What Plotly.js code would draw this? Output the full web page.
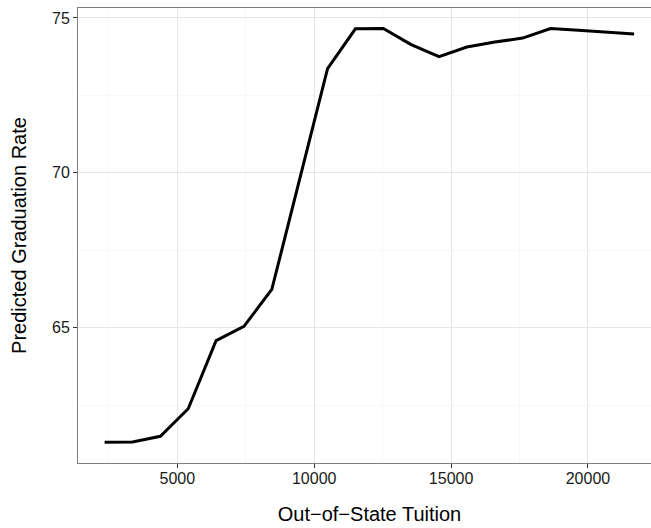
<!DOCTYPE html>
<html>
<head>
<meta charset="utf-8">
<script src="https://cdn.plot.ly/plotly-3.0.1.min.js"></script>
<style>
html, body { margin: 0; padding: 0; overflow: hidden; background: #fff; }
#chart { width: 661px; height: 528px; }
</style>
</head>
<body>
<div id="chart"></div>
<script>
const tuition = [2344, 3362, 4380, 5398, 6416, 7434, 8452, 9470, 10488, 11506,
                 12524, 13542, 14560, 15578, 16596, 17614, 18632, 19650, 20668, 21686];
const gradRate = [61.31, 61.32, 61.50, 62.39, 64.59, 65.05, 66.24, 69.79, 73.36, 74.65,
                  74.66, 74.14, 73.75, 74.06, 74.22, 74.35, 74.66, 74.60, 74.54, 74.48];
const xTitle = "Out\u2212of\u2212State Tuition";
const yTitle = "Predicted Graduation Rate";

const font = "Liberation Sans, Arial, sans-serif";

const trace = {
  x: tuition, y: gradRate, type: "scatter", mode: "lines",
  line: { color: "#000000", width: 3 }, hoverinfo: "skip"
};

const layout = {
  width: 661, height: 528,
  margin: { l: 78, r: 0, t: 8, b: 65 },
  paper_bgcolor: "#ffffff", plot_bgcolor: "#ffffff",
  showlegend: false,
  font: { family: font, color: "#1a1a1a" },
  xaxis: {
    range: [1372, 22668],
    tick0: 0, dtick: 5000,
    tickformat: "d",
    showgrid: true, gridcolor: "#e6e6e6", gridwidth: 1,
    minor: { tick0: 2500, dtick: 5000, showgrid: true, gridcolor: "#f7f7f7", gridwidth: 1, ticks: "" },
    zeroline: false,
    showline: true, linecolor: "#7f7f7f", linewidth: 1, mirror: true,
    ticks: "outside", ticklen: 4, tickcolor: "#333333", tickwidth: 1,
    ticklabelstandoff: -3,
    tickfont: { family: font, size: 16, color: "#1a1a1a" },
    title: { text: xTitle, font: { family: font, size: 20, color: "#000000" }, standoff: 20 },
    automargin: false
  },
  yaxis: {
    range: [60.64, 75.32],
    tick0: 0, dtick: 5,
    showgrid: true, gridcolor: "#e6e6e6", gridwidth: 1,
    minor: { tick0: 62.5, dtick: 5, showgrid: true, gridcolor: "#f7f7f7", gridwidth: 1, ticks: "" },
    zeroline: false,
    showline: true, linecolor: "#7f7f7f", linewidth: 1, mirror: false,
    ticks: "outside", ticklen: 4, tickcolor: "#333333", tickwidth: 1,
    tickfont: { family: font, size: 16, color: "#1a1a1a" },
    title: { text: yTitle, font: { family: font, size: 20, color: "#000000" }, standoff: 20 },
    automargin: false
  }
};

Plotly.newPlot("chart", [trace], layout, { displayModeBar: false, staticPlot: true });
</script>
</body>
</html>
